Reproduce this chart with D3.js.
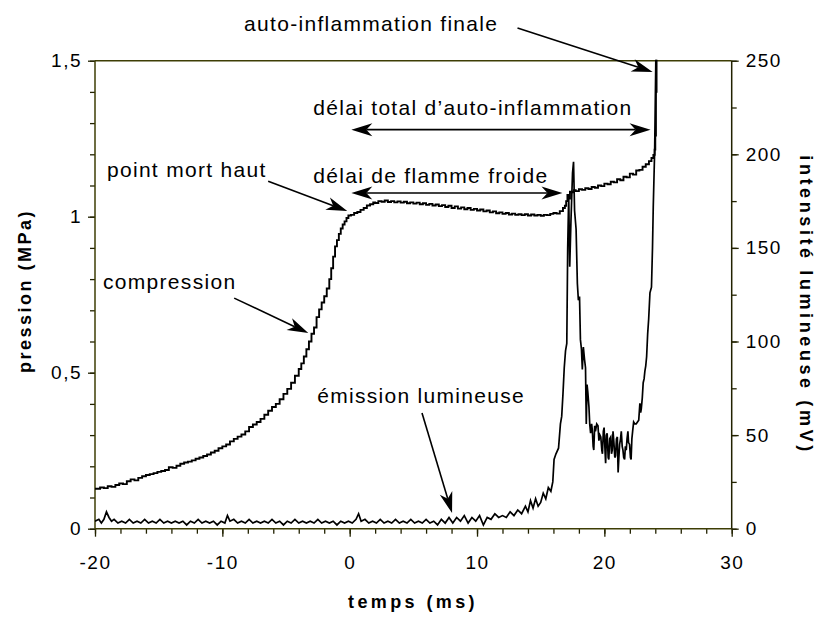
<!DOCTYPE html>
<html><head><meta charset="utf-8">
<script src="https://cdn.jsdelivr.net/npm/d3@7"></script>
<style>body{margin:0;background:#fff}svg{display:block}</style>
</head><body>
<svg id="c" width="818" height="619"></svg>
<script>
// ---- data ----
const xTicksMajor = [-20, -10, 0, 10, 20, 30];
const pTicksMajor = [0, 0.5, 1, 1.5];
const vTicksMajor = [0, 50, 100, 150, 200, 250];

// pression (MPa) vs temps (ms)
const pression = [
[-20.0,0.128],[-19.6,0.132],[-19.3,0.130],[-19.0,0.136],[-18.7,0.134],[-18.4,0.140],[-18.1,0.145],[-17.8,0.143],[-17.5,0.152],[-17.2,0.158],[-16.9,0.155],[-16.6,0.163],[-16.3,0.168],[-16.0,0.172],[-15.7,0.175],[-15.4,0.178],[-15.1,0.182],[-14.8,0.185],[-14.5,0.188],[-14.2,0.197],[-13.9,0.195],[-13.6,0.202],[-13.3,0.208],[-13.0,0.212],[-12.7,0.215],[-12.4,0.219],[-12.1,0.224],[-11.8,0.228],[-11.5,0.233],[-11.2,0.238],[-10.9,0.244],[-10.6,0.250],[-10.3,0.258],[-10.0,0.264],[-9.7,0.270],[-9.4,0.280],[-9.1,0.288],[-8.8,0.295],[-8.5,0.302],[-8.2,0.312],[-7.9,0.326],[-7.6,0.334],[-7.3,0.342],[-7.0,0.352],[-6.7,0.365],[-6.4,0.378],[-6.1,0.390],[-5.8,0.400],[-5.5,0.415],[-5.2,0.432],[-4.9,0.448],[-4.6,0.468],[-4.3,0.490],[-4.0,0.512],[-3.8,0.530],[-3.6,0.552],[-3.4,0.575],[-3.2,0.600],[-3.0,0.625],[-2.8,0.645],[-2.6,0.678],[-2.4,0.703],[-2.2,0.725],[-2.0,0.745],[-1.8,0.770],[-1.6,0.800],[-1.45,0.835],[-1.3,0.872],[-1.15,0.905],[-1.0,0.925],[-0.85,0.945],[-0.7,0.962],[-0.55,0.975],[-0.4,0.985],[-0.25,0.996],[-0.1,1.004],[0.1,1.006],[0.35,1.012],[0.6,1.015],[0.85,1.022],[1.1,1.028],[1.35,1.036],[1.6,1.040],[1.85,1.046],[2.0,1.044],[2.25,1.050],[2.5,1.048],[2.75,1.052],[3.0,1.047],[3.25,1.050],[3.5,1.046],[3.75,1.049],[4.0,1.045],[4.25,1.048],[4.5,1.043],[4.75,1.046],[5.0,1.042],[5.25,1.045],[5.5,1.040],[5.75,1.043],[6.0,1.038],[6.25,1.041],[6.5,1.036],[6.75,1.039],[7.0,1.034],[7.25,1.037],[7.5,1.031],[7.75,1.035],[8.0,1.028],[8.25,1.033],[8.5,1.026],[8.75,1.030],[9.0,1.024],[9.25,1.028],[9.5,1.022],[9.75,1.025],[10.0,1.020],[10.25,1.023],[10.5,1.017],[10.75,1.020],[11.0,1.014],[11.25,1.017],[11.5,1.011],[11.75,1.014],[12.0,1.009],[12.25,1.012],[12.5,1.007],[12.75,1.010],[13.0,1.006],[13.25,1.008],[13.5,1.005],[13.75,1.008],[14.0,1.004],[14.25,1.007],[14.5,1.004],[14.75,1.006],[15.0,1.003],[15.25,1.006],[15.5,1.005],[15.75,1.009],[16.0,1.012],[16.25,1.010],[16.5,1.018],[16.75,1.028],[16.9,1.035],[17.0,1.050],[17.1,1.070],[17.2,1.058],[17.3,1.080],[17.45,1.078],[17.6,1.085],[17.75,1.082],[18.0,1.088],[18.25,1.086],[18.5,1.091],[18.75,1.089],[19.0,1.095],[19.25,1.093],[19.5,1.100],[19.75,1.098],[20.0,1.106],[20.25,1.104],[20.5,1.112],[20.75,1.110],[21.0,1.120],[21.25,1.117],[21.5,1.128],[21.75,1.126],[22.0,1.138],[22.25,1.135],[22.5,1.148],[22.75,1.150],[23.0,1.160],[23.25,1.168],[23.5,1.178],[23.7,1.188],[23.85,1.198],[23.95,1.215],[24.0,1.26],[24.05,1.40],[24.1,1.55]
];

// intensité lumineuse (mV) vs temps (ms)
const lumiere = [
[-20.0,4],[-19.7,5],[-19.5,3],[-19.3,5],[-19.1,9],[-18.9,6],[-18.7,4],[-18.5,5],[-18.2,3],[-17.9,4],[-17.6,3],[-17.3,5],[-17.0,3],[-16.7,4],[-16.4,3],[-16.1,5],[-15.8,3],[-15.5,4],[-15.2,3],[-14.9,5],[-14.6,3],[-14.3,4],[-14.0,3],[-13.7,4],[-13.4,3],[-13.1,4],[-12.8,2],[-12.5,4],[-12.2,3],[-11.9,5],[-11.6,3],[-11.3,4],[-11.0,3],[-10.7,4],[-10.4,2],[-10.1,4],[-9.8,3],[-9.6,7],[-9.4,4],[-9.1,5],[-8.8,3],[-8.5,4],[-8.2,3],[-7.9,5],[-7.6,3],[-7.3,4],[-7.0,3],[-6.7,4],[-6.4,3],[-6.1,5],[-5.8,3],[-5.5,4],[-5.2,2],[-4.9,4],[-4.6,3],[-4.3,5],[-4.0,3],[-3.7,4],[-3.4,3],[-3.1,4],[-2.8,3],[-2.5,5],[-2.2,3],[-1.9,4],[-1.6,3],[-1.3,4],[-1.0,2],[-0.7,4],[-0.4,3],[-0.1,4],[0.2,3],[0.5,5],[0.7,8],[0.9,4],[1.2,5],[1.5,3],[1.8,4],[2.1,3],[2.4,5],[2.7,3],[3.0,4],[3.3,3],[3.6,5],[3.9,3],[4.2,4],[4.5,3],[4.8,5],[5.1,3],[5.4,4],[5.7,3],[6.0,5],[6.3,3],[6.6,4],[6.9,2],[7.2,5],[7.5,3],[7.8,6],[8.1,3],[8.4,6],[8.7,4],[9.0,7],[9.3,3],[9.6,6],[9.9,4],[10.2,7],[10.5,2],[10.8,6],[11.1,5],[11.4,8],[11.7,6],[12.0,7],[12.3,6],[12.6,9],[12.9,7],[13.2,10],[13.5,8],[13.8,12],[14.0,9],[14.2,15],[14.4,11],[14.6,16],[14.8,12],[15.0,14],[15.2,19],[15.4,16],[15.6,22],[15.8,20],[15.95,25],[16.05,37],[16.2,40],[16.4,43],[16.55,56],[16.65,60],[16.75,72],[16.85,86],[16.95,95],[17.05,99],[17.12,150],[17.2,178],[17.28,140],[17.38,165],[17.5,190],[17.58,196],[17.66,170],[17.78,160],[17.88,131],[17.96,122],[18.05,124],[18.12,101],[18.2,96],[18.27,85],[18.35,97],[18.45,90],[18.52,86],[18.58,56],[18.64,77],[18.7,73],[18.79,65],[18.85,56],[18.92,51],[19.0,56],[19.05,53],[19.12,44],[19.17,42],[19.24,55],[19.3,52],[19.4,56],[19.5,55],[19.57,47],[19.65,50],[19.72,49],[19.8,42],[19.85,40],[19.92,52],[19.98,54],[20.05,42],[20.1,35],[20.16,50],[20.22,51],[20.3,38],[20.35,37],[20.42,48],[20.5,49],[20.56,40],[20.62,42],[20.68,52],[20.75,46],[20.82,38],[20.88,39],[20.95,48],[21.02,49],[21.08,30],[21.14,38],[21.2,45],[21.27,48],[21.33,52],[21.4,44],[21.46,42],[21.52,38],[21.59,37],[21.65,44],[21.72,42],[21.78,48],[21.85,52],[21.9,46],[21.98,45],[22.05,38],[22.1,37],[22.16,48],[22.22,52],[22.3,57],[22.4,56],[22.5,56],[22.6,57],[22.7,58],[22.79,67],[22.85,62],[22.9,64],[22.98,70],[23.05,78],[23.12,80],[23.18,84],[23.25,87],[23.32,92],[23.4,104],[23.48,112],[23.58,126],[23.7,129],[23.78,150],[23.84,172],[23.95,202],[24.05,255],[24.1,270]
];

// annotations : text anchor (t, p) and arrows (t, p) in data units of the pressure axis
const etiquettes = [
  {texte:"auto-inflammation finale", t:-8.29, p:1.595},
  {texte:"délai total d’auto-inflammation", t:-2.86, p:1.326},
  {texte:"délai de flamme froide", t:-2.86, p:1.108},
  {texte:"point mort haut", t:-19.06, p:1.127},
  {texte:"compression", t:-19.37, p:0.768},
  {texte:"émission lumineuse", t:-2.55, p:0.403}
];
const fleches = [
  {t1:13.18, p1:1.605, t2:23.79, p2:1.464, double:false},
  {t1:0.13, p1:1.279, t2:23.63, p2:1.279, double:true},
  {t1:0.13, p1:1.076, t2:16.71, p2:1.076, double:true},
  {t1:-6.4, p1:1.114, t2:-0.19, p2:1.018, double:false},
  {t1:-9.07, p1:0.739, t2:-3.25, p2:0.627, double:false},
  {t1:5.68, p1:0.371, t2:8.04, p2:0.050, double:false}
];

// ---- drawing ----
const svg = d3.select("#c");
const L = 95, R = 731.7, T = 60.7, B = 528.7;
const x = d3.scaleLinear().domain([-20, 30]).range([L, R]);
const yP = d3.scaleLinear().domain([0, 1.5]).range([B, T]);
const yV = d3.scaleLinear().domain([0, 250]).range([B, T]);
const FONT = "'Liberation Sans', Arial, Helvetica, sans-serif";
const AXC = "#3d3d05";
const fmt = d => String(d).replace(".", ",");

svg.append("defs").append("clipPath").attr("id","clip")
  .append("rect").attr("x", L).attr("y", T - 1).attr("width", R - L).attr("height", B - T + 1);

function styleAxis(g){
  g.select(".domain").remove();
  g.selectAll(".tick line").attr("stroke", "#222200").attr("stroke-width", 1.3);
  g.selectAll(".tick text").attr("fill","#000").attr("font-family", FONT)
    .attr("font-size", 19).attr("letter-spacing", 1.5);
}

// x axis minor + major
const gxm = svg.append("g").attr("transform", `translate(0,${B})`)
  .call(d3.axisBottom(x).tickValues(d3.range(-20, 31, 2)).tickSize(5).tickFormat(""));
styleAxis(gxm);
const gx = svg.append("g").attr("transform", `translate(0,${B})`)
  .call(d3.axisBottom(x).tickValues(xTicksMajor).tickSize(8).tickPadding(19).tickFormat(fmt));
styleAxis(gx);

// left axis
const gym = svg.append("g").attr("transform", `translate(${L},0)`)
  .call(d3.axisLeft(yP).tickValues(d3.range(0, 1.51, 0.1)).tickSize(5).tickFormat(""));
styleAxis(gym);
const gy = svg.append("g").attr("transform", `translate(${L},0)`)
  .call(d3.axisLeft(yP).tickValues(pTicksMajor).tickSize(7).tickPadding(6).tickFormat(fmt));
styleAxis(gy);

// right axis
const gvm = svg.append("g").attr("transform", `translate(${R},0)`)
  .call(d3.axisRight(yV).tickValues(d3.range(0, 251, 25)).tickSize(5).tickFormat(""));
styleAxis(gvm);
const gv = svg.append("g").attr("transform", `translate(${R},0)`)
  .call(d3.axisRight(yV).tickValues(vTicksMajor).tickSize(7).tickPadding(7).tickFormat(fmt));
styleAxis(gv);

// frame
const frame = svg.append("g").attr("stroke", AXC).attr("stroke-width", 1.5).attr("fill","none");
frame.append("line").attr("x1", L).attr("x2", R).attr("y1", T).attr("y2", T);
frame.append("line").attr("x1", L).attr("x2", R).attr("y1", B).attr("y2", B);
frame.append("line").attr("x1", L).attr("x2", L).attr("y1", T).attr("y2", B);
frame.append("line").attr("x1", R).attr("x2", R).attr("y1", T).attr("y2", B).attr("stroke","#222200");

// series
const plot = svg.append("g").attr("clip-path", "url(#clip)");
plot.append("path").datum(lumiere)
  .attr("fill","none").attr("stroke","#000").attr("stroke-width",1.7).attr("stroke-linejoin","miter")
  .attr("d", d3.line().x(d => x(d[0])).y(d => yV(d[1])));
plot.append("path").datum(pression)
  .attr("fill","none").attr("stroke","#000").attr("stroke-width",1.9)
  .attr("d", d3.line().curve(d3.curveStepAfter).x(d => x(d[0])).y(d => yP(d[1])));

// axis titles
svg.append("text").attr("x", 413).attr("y", 608).attr("text-anchor","middle")
  .attr("font-family", FONT).attr("font-weight","bold").attr("font-size",18).attr("letter-spacing",3.4)
  .text("temps (ms)");
svg.append("text").attr("transform","translate(31,291) rotate(-90)").attr("text-anchor","middle")
  .attr("font-family", FONT).attr("font-weight","bold").attr("font-size",18).attr("letter-spacing",2.5)
  .text("pression (MPa)");
svg.append("text").attr("transform","translate(800,305) rotate(90)").attr("text-anchor","middle")
  .attr("font-family", FONT).attr("font-weight","bold").attr("font-size",18).attr("letter-spacing",3.6)
  .text("intensité lumineuse (mV)");

// annotations
svg.append("g").selectAll("text").data(etiquettes).join("text")
  .attr("x", d => x(d.t)).attr("y", d => yP(d.p))
  .attr("font-family", FONT).attr("font-size", 21).attr("letter-spacing", 1.3)
  .text(d => d.texte);

function head(g, xt, yt, ang){
  g.append("path").attr("d","M0,0L-21,-6.5L-15,0L-21,6.5Z")
    .attr("transform", `translate(${xt},${yt}) rotate(${ang*180/Math.PI})`).attr("fill","#000");
}
const ga = svg.append("g");
fleches.forEach(f => {
  const x1 = x(f.t1), y1 = yP(f.p1), x2 = x(f.t2), y2 = yP(f.p2);
  const a = Math.atan2(y2 - y1, x2 - x1);
  const c = Math.cos(a), s = Math.sin(a);
  const sx = f.double ? x1 + 15*c : x1, sy = f.double ? y1 + 15*s : y1;
  ga.append("line").attr("x1", sx).attr("y1", sy).attr("x2", x2 - 15*c).attr("y2", y2 - 15*s)
    .attr("stroke","#000").attr("stroke-width",1.6);
  head(ga, x2, y2, a);
  if (f.double) head(ga, x1, y1, a + Math.PI);
});
</script>
</body></html>
